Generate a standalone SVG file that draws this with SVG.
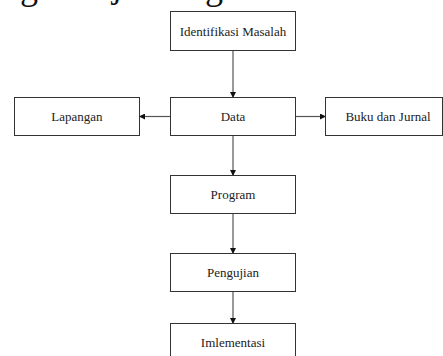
<svg xmlns="http://www.w3.org/2000/svg" width="443" height="356" viewBox="0 0 443 356">
<style>
.box{fill:#fff;stroke:#333;stroke-width:1}
.lbl{font-family:"Liberation Serif","Times New Roman",serif;font-size:13px;fill:#222;text-anchor:middle}
.edge{stroke:#555;stroke-width:1.2;fill:none;marker-end:url(#ah)}
.frag{font-family:"Liberation Serif","Times New Roman",serif;font-size:36px;fill:#111}
</style>
<defs>
<marker id="ah" markerWidth="6" markerHeight="6" refX="5" refY="3" orient="auto" markerUnits="userSpaceOnUse">
<path d="M0,0 L6,3 L0,6 Z" fill="#111"/>
</marker>
</defs>
<rect width="443" height="356" fill="#fff"/>
<g id="caption-fragment">
<text class="frag" x="20" y="-1">g</text>
<text class="frag" x="112" y="-3">j</text>
<text class="frag" x="205" y="-1">g</text>
</g>
<g id="connectors">
<line class="edge" x1="233" y1="51" x2="233" y2="97"/>
<line class="edge" x1="170" y1="116.5" x2="140" y2="116.5"/>
<line class="edge" x1="296" y1="116.5" x2="325" y2="116.5"/>
<line class="edge" x1="233" y1="136" x2="233" y2="175"/>
<line class="edge" x1="233" y1="214" x2="233" y2="253"/>
<line class="edge" x1="233" y1="292" x2="233" y2="323"/>
</g>
<g id="identifikasi">
<rect class="box" x="170.5" y="11.5" width="125" height="39"/>
<text class="lbl" x="233" y="35.5">Identifikasi Masalah</text>
</g>
<g id="data">
<rect class="box" x="170.5" y="97.5" width="125" height="38"/>
<text class="lbl" x="233" y="121">Data</text>
</g>
<g id="lapangan">
<rect class="box" x="14.5" y="97.5" width="125" height="38"/>
<text class="lbl" x="77" y="121">Lapangan</text>
</g>
<g id="buku">
<rect class="box" x="325.5" y="97.5" width="117" height="38"/>
<text class="lbl" x="388" y="121">Buku dan Jurnal</text>
</g>
<g id="program">
<rect class="box" x="170.5" y="175.5" width="125" height="38"/>
<text class="lbl" x="233" y="199">Program</text>
</g>
<g id="pengujian">
<rect class="box" x="170.5" y="253.5" width="125" height="38"/>
<text class="lbl" x="233" y="277">Pengujian</text>
</g>
<g id="implementasi">
<rect class="box" x="170.5" y="323.5" width="125" height="40"/>
<text class="lbl" x="233" y="347">Imlementasi</text>
</g>
</svg>
